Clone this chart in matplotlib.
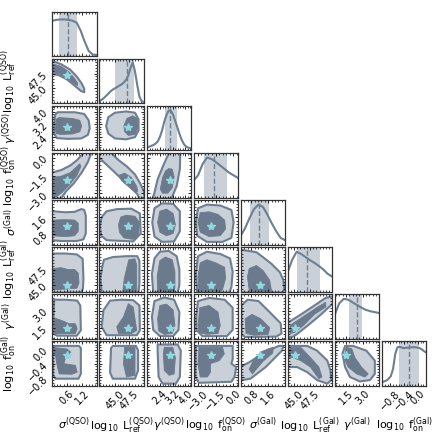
import matplotlib.pyplot as plt
import numpy as np
from matplotlib.ticker import AutoMinorLocator, NullFormatter

# parameter names, plot ranges, ticks and true values
labels = [r'$\sigma^{\rm (QSO)}$', r'$\log_{10}\ \mathrm{L}_{\rm ref}^{\rm (QSO)}$',
          r'$\gamma^{\rm (QSO)}$', r'$\log_{10}\ \mathrm{f}_{\rm on}^{\rm (QSO)}$',
          r'$\sigma^{\rm (Gal)}$', r'$\log_{10}\ \mathrm{L}_{\rm ref}^{\rm (Gal)}$',
          r'$\gamma^{\rm (Gal)}$', r'$\log_{10}\ \mathrm{f}_{\rm on}^{\rm (Gal)}$']
lims = [(0.05, 1.75), (42.4, 50.0), (1.55, 4.35), (-3.35, 0.4),
        (0.3, 2.4), (44.0, 51.0), (0.5, 4.5), (-1.05, 0.25)]
ticks = [[0.6, 1.2], [45.0, 47.5], [2.4, 3.2, 4.0], [-3.0, -1.5, 0.0],
         [0.8, 1.6], [45.0, 47.5], [1.5, 3.0], [-0.8, -0.4, 0.0]]
truths = [0.6, 47.3, 3.0, -1.9, 1.2, 45.1, 1.5, -0.15]

# 1D marginals (relative density, evenly spaced over each range)
hist_sigQ = [0.80, 0.82, 0.83, 0.83, 0.82, 0.80, 0.76, 0.58, 0.33, 0.12, 0.04, 0.03]
hist_LQ = [0.06, 0.08, 0.12, 0.17, 0.22, 0.27, 0.31, 0.34, 0.37, 0.40, 0.43,
           0.47, 0.53, 0.63, 0.80, 0.92, 0.72, 0.42, 0.15, 0.05, 0.03]
hist_gQ = [0.07, 0.08, 0.10, 0.12, 0.15, 0.20, 0.30, 0.45, 0.65, 0.80, 0.90,
           0.89, 0.80, 0.65, 0.50, 0.35, 0.22, 0.13, 0.08, 0.06, 0.05]
hist_fQ = [0.38, 0.50, 0.75, 0.90, 0.87, 0.80, 0.72, 0.64, 0.56, 0.50, 0.44]
hist_sigG = [0.20, 0.37, 0.60, 0.80, 0.90, 0.85, 0.68, 0.48, 0.30, 0.15, 0.10]
hist_LG = [0.45, 0.72, 0.90, 0.85, 0.78, 0.71, 0.65, 0.58, 0.50, 0.40, 0.34]
hist_gG = [0.55, 0.80, 0.90, 0.88, 0.82, 0.76, 0.70, 0.65, 0.62, 0.60, 0.58]
hist_fG = [0.08, 0.10, 0.12, 0.16, 0.22, 0.38, 0.72, 0.87, 0.88, 0.86, 0.85,
           0.86, 0.86, 0.87, 0.87, 0.87, 0.86, 0.85, 0.82, 0.78, 0.75]
hists = [hist_sigQ, hist_LQ, hist_gQ, hist_fQ, hist_sigG, hist_LG, hist_gG, hist_fG]

band_lo = [0.31, 45.14, 2.70, -2.49, 0.76, 45.4, 1.74, -0.54]
band_hi = [1.00, 48.25, 3.48, -0.54, 1.64, 49.1, 2.98, 0.04]
medians = [0.65, 47.11, 3.06, -1.66, 1.18, 47.0, 2.50, -0.26]

# 2D credible regions, (outer 95%, inner 68%) per column, one list per row
row_LQ = [
    ([(0.02, 49.7), (0.39, 49.09), (0.73, 48.18), (0.99, 46.96), (1.17, 45.82), (1.27, 44.91),
      (1.27, 44.3), (1.14, 44.53), (0.9, 45.44), (0.61, 46.5), (0.31, 47.19), (0.02, 47.49)],
     [(0.02, 49.24), (0.39, 48.71), (0.68, 47.8), (0.9, 46.66), (1.02, 45.82), (1.0, 45.44),
      (0.85, 45.9), (0.59, 46.81), (0.31, 47.42), (0.02, 47.8)]),
]
row_gQ = [
    ([(0.12, 3.23), (0.15, 3.79), (0.25, 3.96), (0.9, 3.96), (1.27, 3.85), (1.44, 3.45), (1.48, 2.95),
      (1.41, 2.53), (1.16, 2.31), (0.65, 2.28), (0.22, 2.33), (0.12, 2.61)],
     [(0.17, 2.81), (0.19, 3.51), (0.31, 3.62), (0.82, 3.57), (1.1, 3.45), (1.17, 3.09), (1.1, 2.73),
      (0.82, 2.59), (0.39, 2.56), (0.2, 2.61)]),
    ([(43.54, 3.09), (43.92, 3.65), (45.06, 3.93), (46.96, 4.01), (48.48, 3.93), (49.09, 3.51),
      (49.09, 2.81), (48.48, 2.39), (46.96, 2.25), (45.06, 2.31), (43.92, 2.61)],
     [(46.58, 3.09), (47.11, 3.57), (48.1, 3.73), (48.86, 3.57), (48.94, 2.95), (48.48, 2.56),
      (47.34, 2.5), (46.73, 2.73)]),
]
row_fQ = [
    ([(0.02, -3.43), (0.02, -1.25), (0.39, -1.03), (0.73, -0.65), (0.99, -0.2), (1.16, 0.21),
      (1.27, 0.48), (1.55, 0.48), (1.41, -0.35), (1.17, -1.25), (0.87, -2.15), (0.56, -2.86),
      (0.39, -3.43)],
     [(0.02, -3.28), (0.02, -1.66), (0.39, -1.55), (0.73, -1.25), (0.99, -0.73), (1.1, -0.5),
      (1.14, -0.73), (0.99, -1.48), (0.7, -2.3), (0.39, -2.98), (0.19, -3.28)]),
    ([(42.55, 0.48), (42.3, 0.03), (43.54, -0.54), (44.76, -1.1), (46.2, -1.78), (47.72, -2.41),
      (48.86, -3.05), (49.24, -3.43), (50.15, -3.43), (50.0, -2.79), (49.24, -2.04), (48.48, -1.4),
      (47.11, -0.73), (45.59, -0.16), (44.3, 0.48)],
     [(45.67, -1.48), (46.73, -1.29), (47.87, -1.66), (48.78, -2.41), (48.94, -2.83), (48.48, -2.9),
      (47.42, -2.45), (46.2, -1.93)]),
    ([(1.94, -3.43), (2.05, -2.94), (2.25, -1.81), (2.59, -0.69), (2.89, 0.21), (3.01, 0.48),
      (3.68, 0.48), (3.65, -0.95), (3.45, -2.38), (3.17, -3.28), (3.12, -3.43)],
     [(2.42, -2.64), (2.56, -1.66), (2.75, -1.1), (2.95, -0.91), (3.17, -0.95), (3.29, -1.59),
      (3.17, -2.53), (2.89, -2.98), (2.56, -2.98)]),
]
row_sigG = [
    ([(0.02, 0.51), (0.02, 1.88), (0.56, 1.83), (0.9, 1.85), (1.16, 1.98), (1.27, 1.94), (1.33, 1.67),
      (1.33, 0.83), (1.24, 0.55), (0.99, 0.47), (0.39, 0.47)],
     [(0.02, 0.72), (0.02, 1.46), (0.56, 1.48), (0.9, 1.46), (1.04, 1.31), (1.04, 0.93), (0.9, 0.72),
      (0.56, 0.68)]),
    ([(42.48, 1.14), (42.78, 1.6), (43.62, 1.88), (45.44, 1.98), (47.87, 2.0), (49.32, 1.77),
      (49.47, 0.83), (48.18, 0.45), (43.62, 0.51), (42.7, 0.72)],
     [(45.67, 1.25), (46.05, 1.6), (46.96, 1.69), (48.48, 1.64), (49.24, 1.35), (49.09, 0.68),
      (48.1, 0.55), (46.58, 0.62), (45.82, 0.89)]),
    ([(1.91, 1.35), (2.05, 2.02), (2.53, 2.25), (3.23, 2.23), (3.65, 1.88), (3.65, 0.93), (3.29, 0.45),
      (2.53, 0.43), (2.05, 0.68)],
     [(2.25, 1.35), (2.39, 1.88), (2.81, 1.98), (3.23, 1.77), (3.37, 1.25), (3.23, 0.83), (2.81, 0.72),
      (2.39, 0.89)]),
    ([(-3.16, 1.35), (-2.98, 2.02), (-2.23, 2.19), (-1.1, 2.15), (-0.16, 1.94), (0.03, 1.35),
      (-0.16, 0.62), (-0.91, 0.43), (-2.23, 0.43), (-3.05, 0.72)],
     [(-2.98, 1.35), (-2.79, 1.81), (-2.04, 1.85), (-1.29, 1.73), (-0.73, 1.46), (-0.65, 1.04),
      (-1.1, 0.72), (-2.04, 0.68), (-2.79, 0.89)]),
]
row_LG = [
    ([(0.02, 43.86), (0.02, 50.02), (0.56, 50.02), (0.99, 49.88), (1.21, 49.18), (1.24, 46.1),
      (1.22, 44.5), (1.15, 43.86)],
     [(0.02, 44.28), (0.02, 47.64), (0.39, 47.78), (0.65, 47.5), (0.9, 47.5), (1.04, 46.94),
      (1.07, 45.4), (0.99, 44.56), (0.56, 44.42)]),
    ([(42.78, 43.86), (42.55, 46.1), (42.86, 47.85), (43.16, 49.04), (44.68, 49.46), (46.96, 49.6),
      (48.86, 49.6), (49.24, 48.9), (49.24, 45.4), (49.09, 43.86)],
     [(46.35, 43.86), (46.66, 46.1), (47.11, 47.85), (47.42, 49.04), (48.48, 49.18), (48.78, 48.2),
      (48.78, 43.86)]),
    ([(1.97, 43.86), (1.89, 46.8), (2.05, 49.25), (2.39, 50.3), (2.95, 50.44), (3.45, 49.6),
      (3.62, 47.5), (3.62, 45.05), (3.51, 43.86)],
     [(2.25, 43.86), (2.22, 46.45), (2.39, 48.9), (2.73, 49.46), (3.17, 49.04), (3.34, 47.15),
      (3.34, 44.7), (3.29, 43.86)]),
    ([(-3.05, 43.86), (-3.16, 46.8), (-2.98, 49.6), (-2.23, 50.3), (-1.1, 49.95), (-0.28, 49.25),
      (-0.05, 47.15), (-0.16, 44.7), (-0.35, 43.86)],
     [(-2.9, 43.86), (-2.98, 46.45), (-2.79, 48.55), (-2.23, 49.04), (-1.48, 48.55), (-0.73, 47.85),
      (-0.65, 46.1), (-0.91, 44.35), (-1.1, 43.86)]),
    ([(0.26, 43.86), (0.26, 50.65), (0.51, 50.51), (1.04, 50.23), (1.35, 49.46), (1.75, 48.41),
      (2.15, 47.08), (2.32, 45.82), (2.36, 44.35), (2.3, 43.86)],
     [(0.72, 43.86), (0.62, 46.31), (0.7, 47.64), (1.04, 48.13), (1.35, 47.36), (1.67, 45.82),
      (1.75, 44.28), (1.75, 43.86)]),
]
row_gG = [
    ([(0.08, 1.7), (0.12, 4.02), (0.56, 4.02), (1.0, 3.94), (1.12, 3.5), (1.14, 1.26), (0.99, 0.78),
      (0.22, 0.78), (0.08, 0.98)],
     [(0.02, 0.9), (0.02, 2.46), (0.42, 2.14), (0.68, 1.86), (0.93, 1.86), (1.0, 1.42), (0.93, 0.98),
      (0.22, 0.94)]),
    ([(43.08, 3.06), (44.22, 3.94), (46.2, 4.02), (48.18, 3.98), (49.24, 3.5), (49.32, 1.26),
      (48.78, 0.82), (43.62, 0.82), (42.78, 1.58)],
     [(46.5, 2.46), (47.34, 3.66), (48.18, 3.34), (48.78, 1.26), (47.87, 0.98), (45.67, 0.98),
      (45.36, 1.58)]),
    ([(1.89, 2.5), (2.05, 3.9), (2.67, 4.22), (3.29, 4.02), (3.62, 2.9), (3.57, 1.3), (3.23, 0.74),
      (2.39, 0.74), (1.97, 1.3)],
     [(2.25, 2.3), (2.39, 3.5), (2.81, 3.62), (3.23, 3.1), (3.34, 1.7), (3.17, 0.98), (2.67, 0.9),
      (2.31, 1.22)]),
    ([(-3.13, 2.5), (-2.98, 3.9), (-2.04, 4.18), (-0.73, 4.02), (-0.05, 3.3), (-0.05, 1.3),
      (-0.54, 0.74), (-2.6, 0.74), (-3.13, 1.3)],
     [(-2.98, 1.7), (-2.83, 3.3), (-2.04, 3.5), (-1.29, 2.9), (-1.1, 1.7), (-1.29, 0.98),
      (-2.23, 0.9), (-2.9, 1.06)]),
    ([(0.34, 0.9), (0.34, 3.5), (0.62, 4.02), (1.14, 3.9), (1.67, 2.9), (2.19, 1.9), (2.23, 0.98),
      (1.98, 0.7), (0.51, 0.66)],
     [(0.55, 0.98), (0.51, 2.3), (0.83, 2.7), (1.25, 2.3), (1.67, 1.5), (1.6, 0.9), (0.93, 0.82)]),
    ([(43.86, 0.66), (43.86, 1.9), (46.1, 2.7), (48.2, 3.5), (49.95, 4.18), (51.14, 4.34),
      (51.14, 3.7), (49.25, 2.7), (47.15, 1.7), (45.4, 0.9), (44.7, 0.66)],
     [(44.35, 0.98), (44.35, 1.7), (46.45, 2.5), (48.55, 3.3), (49.95, 3.78), (50.02, 3.38),
      (48.2, 2.7), (46.45, 1.7), (45.05, 1.06)]),
]
row_fG = [
    ([(0.08, -0.74), (0.08, 0.07), (0.15, 0.12), (1.07, 0.12), (1.14, 0.055), (1.14, -0.7),
      (1.05, -0.84), (0.17, -0.84)],
     [(0.02, 0.08), (0.61, 0.03), (0.75, -0.06), (0.56, -0.22), (0.49, -0.4), (0.93, -0.45),
      (1.0, -0.65), (0.8, -0.71), (0.31, -0.7), (0.22, -0.4), (0.17, -0.17), (0.02, -0.14)]),
    ([(44.22, -0.66), (44.38, 0.055), (44.68, 0.12), (48.63, 0.12), (49.01, -0.01), (49.01, -0.6),
      (48.48, -0.84), (44.68, -0.84)],
     [(46.5, -0.4), (46.73, 0.08), (48.48, 0.08), (48.48, -0.74), (47.04, -0.79)]),
    ([(2.25, 0.16), (3.51, 0.16), (3.71, -0.02), (3.65, -0.79), (3.4, -0.985), (2.56, -0.985),
      (2.31, -0.79), (2.25, -0.02)],
     [(2.67, 0.08), (3.2, 0.08), (3.37, -0.22), (3.29, -0.7), (2.98, -0.74), (2.67, -0.6),
      (2.61, -0.11)]),
    ([(-3.16, 0.12), (-0.05, 0.12), (-0.05, -0.27), (-0.16, -0.4), (0.25, -0.5), (0.1, -0.79),
      (-0.16, -0.93), (-2.9, -0.96), (-3.2, -0.79)],
     [(-2.9, 0.08), (-0.91, 0.08), (-0.76, -0.11), (-1.18, -0.31), (-1.93, -0.4), (-1.93, -0.65),
      (-2.19, -0.79), (-2.79, -0.79), (-2.98, -0.4)]),
    ([(0.26, -0.79), (0.26, -0.5), (0.7, -0.36), (1.48, -0.06), (2.09, 0.12), (2.32, 0.12),
      (2.25, -0.02), (1.48, -0.5), (0.76, -0.84), (0.38, -0.88)],
     [(0.7, -0.56), (0.93, -0.27), (1.25, -0.06), (1.62, 0.04), (1.85, 0.08), (1.81, -0.09),
      (1.35, -0.335), (1.04, -0.56), (0.85, -0.7)]),
    ([(43.86, 0.12), (47.08, 0.12), (48.62, -0.02), (50.23, -0.31), (50.72, -0.6), (50.86, -0.88),
      (50.23, -0.985), (48.62, -0.88), (47.08, -0.65), (45.47, -0.5), (43.86, -0.5)],
     [(43.86, 0.08), (46.03, 0.08), (47.57, -0.22), (48.9, -0.5), (49.39, -0.79), (48.9, -0.84),
      (47.57, -0.5), (46.03, -0.31), (44.7, -0.22), (43.86, -0.22)]),
    ([(1.18, -0.11), (1.42, 0.12), (2.14, 0.12), (3.34, -0.02), (4.1, -0.31), (4.1, -0.7),
      (3.66, -0.88), (2.74, -0.92), (1.86, -0.79), (1.42, -0.5)],
     [(1.35, -0.25), (1.5, 0.08), (2.02, 0.04), (2.3, -0.22), (2.9, -0.5), (3.5, -0.7),
      (3.22, -0.79), (2.46, -0.7), (1.7, -0.5)]),
]
rows2d = [None, row_LQ, row_gQ, row_fQ, row_sigG, row_LG, row_gG, row_fG]

# colours
c_dark = '#6b7a8c'
c_light = '#c9d0d8'
c_line = '#6e7f92'
c_star = '#8fd8e0'

n = len(labels)
fig = plt.figure(figsize=(4.4, 4.4), dpi=100)
axes = fig.subplots(n, n)
fig.subplots_adjust(left=0.119, right=0.969, bottom=0.123, top=0.973, wspace=0.06, hspace=0.06)

for i in range(n):
    for j in range(n):
        ax = axes[i, j]
        if j > i:
            ax.set_visible(False)
            continue
        if i == j:
            x = np.linspace(lims[i][0], lims[i][1], len(hists[i]))
            ax.axvspan(band_lo[i], band_hi[i], color=c_light, lw=0)
            ax.axvline(medians[i], color=c_line, ls='--', lw=1.0)
            ax.plot(x, hists[i], color=c_line, lw=1.5)
            ax.set_ylim(0, 1)
            ax.set_yticks([])
        else:
            outer, inner = rows2d[i][j]
            ox, oy = zip(*outer)
            ix, iy = zip(*inner)
            ax.fill(ox, oy, facecolor=c_light, edgecolor=c_line, lw=1.5, joinstyle='round')
            ax.fill(ix, iy, facecolor=c_dark, edgecolor=c_dark, lw=0.6, joinstyle='round')
            ax.plot(truths[j], truths[i], marker='*', ms=6, color=c_star, mec=c_star, zorder=5)
            ax.set_ylim(lims[i])
            ax.set_yticks(ticks[i])
            ax.yaxis.set_minor_locator(AutoMinorLocator(5))
        ax.set_xlim(lims[j])
        ax.set_xticks(ticks[j])
        ax.xaxis.set_minor_locator(AutoMinorLocator(5))
        ax.tick_params(which='both', direction='in', top=True, right=True, labelsize=7)
        ax.tick_params(which='major', length=2.5, width=0.6, pad=2)
        ax.tick_params(which='minor', length=1.5, width=0.5)
        for s in ax.spines.values():
            s.set_color('#333333')
            s.set_linewidth(0.9)

        if i == n - 1:
            for t in ax.get_xticklabels():
                t.set_rotation(45)
            ax.set_xlabel(labels[j], fontsize=8)
            ax.xaxis.set_label_coords(0.5, -0.66)
        else:
            ax.xaxis.set_major_formatter(NullFormatter())
        if j == 0 and i > 0:
            for t in ax.get_yticklabels():
                t.set_rotation(45)
            ax.set_ylabel(labels[i], fontsize=8)
            ax.yaxis.set_label_coords(-0.74, 0.5)
        elif i != j:
            ax.yaxis.set_major_formatter(NullFormatter())

fig.savefig('out.png', dpi=100)
